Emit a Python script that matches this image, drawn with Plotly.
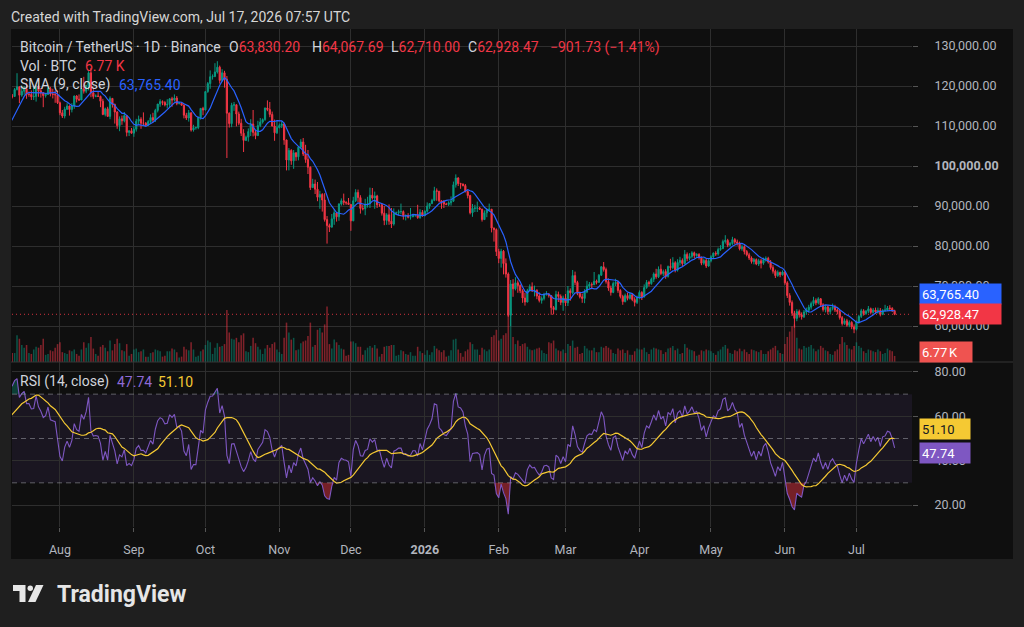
import numpy as np
import pandas as pd
import plotly.graph_objects as go

# ---------------- data (prices in thousands of USDT, volume in thousands of BTC) -------------
START = "2025-07-01"
warmup_close = [105.7,105.9,105.4,104.7,101.5,104.3,105.6,105.8,110.3,110.3,108.6,105.7,106.1,105.4,105.6,
                106.8,104.6,104.9,104.6,103.3,102.1,100.9,105.4,106.0,107.3,106.9,107.1,107.3,108.4,107.1]

close_k = [
 105.7,108.9,109.6,108.0,108.2,109.2,108.3,108.9,111.3,115.9,117.5,117.4,119.1,119.8,117.7,118.7,119.3,117.9,117.9,117.3,117.4,120.0,118.8,118.3,117.6,117.9,119.4,118.0,117.9,117.8,115.8,
 113.3,112.5,114.2,115.0,114.1,115.0,117.5,116.7,116.5,119.3,118.7,120.1,123.3,118.3,117.4,117.5,117.4,116.2,112.9,114.3,112.4,116.9,115.4,113.5,110.1,111.8,111.3,112.6,108.4,108.8,108.2,
 109.2,111.2,111.7,110.7,110.7,110.2,111.1,112.1,111.5,113.9,115.5,116.1,115.9,115.3,115.4,116.8,116.5,117.0,115.6,115.7,115.2,112.7,112.0,113.3,109.0,109.6,109.6,112.1,114.4,114.0,
 118.6,120.6,122.3,122.4,123.5,124.7,121.4,123.3,121.7,113.2,110.6,115.2,115.3,113.0,110.7,108.2,106.4,107.2,108.6,110.5,108.4,107.6,110.1,111.0,111.6,114.5,114.1,112.9,110.0,108.3,109.6,
 110.1,110.5,106.5,101.5,103.9,101.3,103.3,102.3,104.7,106.0,103.0,101.6,99.7,94.6,95.5,94.2,92.2,92.9,91.5,86.6,85.1,84.7,86.8,88.3,87.3,90.5,91.3,90.9,90.8,90.4,
 86.3,91.3,93.4,92.1,89.4,89.3,90.4,90.6,92.7,92.0,92.5,90.3,90.3,88.2,86.4,87.8,86.2,85.5,88.1,88.3,88.6,88.6,87.5,87.6,87.2,87.3,87.8,87.8,87.1,88.4,87.6,
 88.7,90.0,90.6,91.4,93.8,93.7,91.3,91.0,90.5,90.4,90.8,91.2,95.3,97.0,95.6,95.5,95.1,93.6,92.6,88.3,89.4,89.5,89.5,89.2,86.6,88.3,89.1,89.2,84.5,84.1,78.6,
 76.9,78.7,75.6,73.0,62.7,70.5,69.3,70.8,70.1,68.8,67.0,66.0,68.8,69.8,68.8,68.9,67.5,66.4,66.9,67.9,68.0,67.6,64.6,64.1,67.9,67.4,65.9,67.0,
 65.8,68.8,68.3,72.6,70.9,68.2,67.3,66.9,68.5,70.0,70.4,70.3,71.2,70.9,72.7,74.8,74.1,71.1,69.5,68.4,70.6,70.9,68.9,67.4,66.1,67.6,66.9,67.8,66.6,65.9,67.2,
 68.4,67.3,69.6,70.9,70.6,71.7,73.0,72.3,74.2,73.1,73.6,72.4,74.9,74.6,75.8,74.0,75.9,76.4,75.6,77.9,76.9,77.4,78.3,77.6,77.9,77.1,75.7,76.4,75.0,76.3,
 77.3,78.2,78.0,79.1,79.4,81.1,81.4,80.2,80.6,81.6,81.0,80.7,79.3,79.8,78.6,77.8,77.0,76.1,76.6,75.5,76.3,75.7,76.6,76.9,76.0,74.6,73.7,72.6,73.4,72.8,73.5,
 70.8,67.6,65.9,63.2,61.9,63.6,62.8,62.3,63.5,63.9,64.7,65.6,66.4,65.8,66.8,65.3,64.1,64.8,63.6,64.4,64.7,64.0,63.6,62.1,60.6,61.3,60.2,60.9,59.8,59.2,
 61.0,62.4,63.8,63.1,63.7,64.3,63.4,64.0,63.5,63.9,62.9,63.9,64.0,64.5,64.4,63.8302,62.92847]

high_k = [
 107.6,109.8,110.5,109.8,108.4,109.7,109.7,109.2,111.9,116.9,118.9,118.0,119.5,123.2,119.8,120.1,120.0,120.8,118.6,118.9,119.7,120.2,120.1,119.5,118.5,118.3,119.8,119.8,119.3,118.8,118.9,
 116.1,114.0,114.8,115.7,115.1,115.7,117.6,117.7,117.9,119.3,122.3,120.3,123.7,124.5,119.2,117.9,118.6,117.6,116.8,114.6,114.8,117.4,117.0,115.6,113.7,112.4,112.6,113.5,112.7,108.9,109.5,
 109.9,111.8,112.6,112.2,113.4,111.0,111.5,112.9,113.3,114.3,115.5,116.7,116.4,116.2,116.7,117.0,117.3,117.9,117.5,116.0,115.9,115.4,113.3,114.0,113.4,110.3,109.8,112.4,114.5,114.8,
 118.7,121.0,123.9,122.9,125.7,126.2,125.1,124.2,123.8,122.5,113.4,115.8,116.0,115.4,113.6,111.8,109.2,107.6,109.4,111.7,114.0,109.0,111.3,112.0,111.9,114.6,116.4,116.0,113.6,111.6,111.2,
 110.6,111.2,110.8,106.6,104.5,104.2,104.0,103.4,105.0,106.7,107.0,105.3,104.0,99.9,96.8,96.6,96.0,93.8,93.2,93.2,87.5,85.6,88.0,89.2,88.5,90.7,91.9,93.1,91.2,92.0,
 90.4,92.3,94.2,94.1,92.7,90.3,91.8,92.3,94.6,94.5,93.6,92.8,90.6,90.6,90.0,88.2,90.4,89.5,89.4,88.6,89.1,90.6,88.9,87.9,88.2,89.5,87.9,88.0,90.3,89.2,89.0,
 88.9,90.9,90.7,91.8,94.8,94.4,93.6,91.4,91.5,90.8,91.2,92.4,96.1,97.9,97.2,95.8,95.6,95.5,93.9,92.8,90.5,90.3,91.1,89.8,89.3,88.9,89.4,90.6,89.2,84.6,84.4,
 79.3,79.3,79.0,76.9,73.4,71.5,71.7,72.2,71.4,70.4,69.2,68.3,69.3,70.4,70.9,70.1,69.2,68.4,67.4,68.3,68.7,68.2,67.7,65.0,68.8,68.6,67.9,67.6,
 68.0,70.0,69.4,74.0,73.6,71.3,68.6,68.1,69.2,71.3,71.0,70.9,73.5,71.6,73.0,75.0,76.0,74.6,71.9,70.1,71.1,71.8,71.3,69.2,67.8,68.1,68.3,68.2,68.0,67.2,67.6,
 68.9,68.7,70.4,71.5,71.3,72.1,73.4,74.3,74.9,75.4,74.1,74.2,75.1,76.8,77.2,76.2,76.7,77.3,76.9,79.0,78.4,78.2,78.7,78.6,78.2,78.2,77.4,76.9,76.8,76.7,
 77.7,78.4,78.7,79.6,80.2,81.6,82.7,81.8,81.0,82.3,82.0,81.6,81.1,80.3,80.2,79.0,78.3,77.4,77.0,76.9,76.8,76.8,77.1,77.4,77.3,76.5,75.2,74.1,73.9,73.6,73.9,
 73.7,71.2,68.2,66.4,63.8,64.2,64.1,63.4,64.0,64.6,65.3,66.1,67.3,66.9,67.2,67.0,65.7,65.2,65.1,64.8,65.6,65.3,64.4,64.0,62.5,61.9,61.8,61.4,61.2,60.4,
 61.4,62.8,64.3,64.2,64.0,65.0,64.6,64.5,64.6,64.6,64.5,64.2,65.3,65.0,65.2,64.7,64.06769]

low_k = [
 105.3,105.6,108.6,107.3,107.8,107.8,107.5,107.4,108.4,110.6,115.2,116.9,117.3,118.9,115.7,117.3,117.8,116.8,117.3,116.5,116.5,116.1,117.3,117.1,114.7,117.1,117.8,117.4,116.9,115.8,115.5,
 112.7,112.0,111.9,114.0,112.6,113.4,114.3,115.9,116.3,116.5,118.1,118.2,118.9,117.2,116.8,117.2,117.3,114.7,112.7,112.4,112.4,111.7,114.6,110.6,109.3,108.7,110.3,110.9,107.4,107.5,108.1,
 107.3,108.6,110.5,109.3,110.2,110.0,110.0,110.6,110.9,111.0,113.4,114.8,115.2,114.9,114.4,114.7,114.8,116.1,115.2,115.4,115.1,111.9,111.5,111.1,108.6,108.6,109.1,109.2,111.6,112.7,
 113.9,118.3,119.3,121.6,122.2,123.1,120.6,121.1,119.6,102.0,109.6,109.7,113.8,109.9,110.2,107.5,103.5,106.3,106.1,107.5,107.4,106.7,107.5,109.7,110.6,111.3,113.7,112.2,109.9,106.3,108.0,
 109.4,109.5,105.3,98.9,98.9,100.3,99.3,101.3,101.4,104.3,102.5,100.8,98.0,94.0,94.6,93.0,91.2,89.3,88.6,86.1,80.6,83.5,84.7,85.3,86.1,86.3,90.1,90.2,90.3,90.3,
 83.8,86.2,91.0,91.0,88.1,88.9,87.7,89.6,89.5,91.6,89.3,89.5,89.8,87.6,85.2,85.3,85.3,84.5,85.1,87.9,87.6,87.9,86.6,86.4,86.9,86.6,87.2,87.3,86.8,86.8,87.3,
 87.4,88.3,89.3,90.6,91.2,91.3,90.9,89.3,89.5,90.2,90.0,90.1,91.0,94.6,95.0,94.3,94.9,93.4,91.9,87.9,87.3,88.5,88.5,89.0,86.1,86.5,87.2,88.7,83.4,81.1,77.5,
 75.7,74.6,72.9,72.1,62.3,60.0,67.3,68.9,68.3,68.2,65.8,65.1,65.9,68.6,68.5,67.4,66.7,65.9,65.6,66.4,67.6,67.1,62.8,62.9,63.9,66.0,65.2,63.8,
 65.0,65.0,66.3,67.9,70.2,67.7,66.9,65.8,65.7,68.2,69.3,69.2,70.3,70.4,70.9,72.5,73.6,70.6,68.8,67.6,68.2,70.0,68.3,66.9,65.3,65.9,66.4,66.6,66.2,64.9,65.5,
 66.7,66.5,67.1,69.3,69.9,70.3,71.0,71.8,72.0,72.7,72.5,71.8,72.1,73.9,74.2,73.4,73.6,75.1,74.9,75.4,76.2,76.4,76.9,76.9,77.3,76.6,75.2,75.3,74.5,74.8,
 75.9,77.0,77.5,77.6,78.8,79.2,80.6,79.7,79.9,80.3,80.4,80.1,78.9,78.8,77.9,77.4,76.5,75.6,75.4,75.2,75.0,74.4,75.3,76.1,75.6,74.1,73.1,72.0,72.3,72.2,72.6,
 70.3,67.0,65.1,62.5,59.6,61.2,62.1,61.6,62.0,62.8,63.4,64.1,65.0,65.2,65.4,64.8,63.6,63.4,62.9,62.9,63.9,63.5,62.9,61.6,60.1,60.3,59.8,59.7,59.2,58.2,
 58.9,60.6,62.0,62.6,62.8,63.2,62.9,63.1,63.0,63.1,62.4,62.7,63.6,63.8,63.8,63.5,62.71]

volume_k = [
 12,17,13,11,5,6,9,9,15,34,30,10,10,30,26,19,16,19,10,9,14,17,16,19,26,8,9,13,12,16,20,
 22,11,10,9,13,12,14,9,7,14,22,16,21,28,15,9,7,17,19,16,12,24,13,20,26,21,13,12,20,7,9,
 14,15,11,12,14,6,6,10,11,14,13,12,6,7,12,12,15,14,11,5,6,17,14,13,22,14,6,7,12,14,
 19,24,22,9,16,21,17,18,20,58,33,26,25,27,22,30,32,12,11,18,27,21,17,14,9,15,19,16,20,22,14,
 11,9,27,44,33,25,27,13,14,21,23,24,29,44,17,19,36,38,33,42,62,20,15,25,22,19,15,14,7,8,
 23,23,21,17,17,8,13,16,18,16,19,15,6,9,17,18,18,19,19,7,8,13,12,9,8,11,7,7,17,12,10,
 8,13,8,11,18,15,13,11,13,6,7,13,25,26,14,10,6,12,14,22,20,14,14,8,16,14,12,14,28,30,36,
 24,26,30,32,55,60,28,20,24,18,20,21,17,14,13,14,15,16,13,10,9,22,21,24,15,13,12,14,
 10,20,18,24,16,17,9,10,18,15,13,13,16,11,11,17,16,18,16,14,10,9,15,13,14,10,13,8,8,12,15,
 14,14,16,11,9,14,16,15,14,13,9,11,15,16,18,13,15,9,10,20,16,14,13,12,7,8,13,12,14,13,
 12,10,8,12,14,17,19,15,10,9,13,12,15,12,14,11,9,14,13,12,11,13,9,9,12,14,16,18,13,10,9,
 20,28,34,40,42,27,15,14,18,16,17,19,15,12,14,18,16,13,12,9,8,12,14,20,28,22,19,15,14,18,
 22,18,16,12,10,14,13,12,11,14,12,9,10,15,13,12,6.77]

month_ticks = ["2025-08-01","2025-09-01","2025-10-01","2025-11-01","2025-12-01","2026-01-01",
               "2026-02-01","2026-03-01","2026-04-01","2026-05-01","2026-06-01","2026-07-01"]
month_labels = ["Aug","Sep","Oct","Nov","Dec","<b>2026</b>","Feb","Mar","Apr","May","Jun","Jul"]
price_ticks = [60000,70000,80000,90000,100000,110000,120000,130000]
rsi_ticks = [20,40,60,80]

# values printed by the reference legend / scale labels
LEG_O, LEG_H, LEG_L, LEG_C = "63,830.20", "64,067.69", "62,710.00", "62,928.47"
LEG_CHG = "−901.73 (−1.41%)"
LEG_VOL = "6.77 K"
LEG_SMA = "63,765.40"
LEG_RSI, LEG_RSIMA = "47.74", "51.10"

# ---------------- derived series ----------------
close = np.array(close_k) * 1000
high = np.array(high_k) * 1000
low = np.array(low_k) * 1000
warm = np.array(warmup_close) * 1000
open_ = np.concatenate([[warm[-1]], close[:-1]])
high = np.maximum(high, np.maximum(open_, close))
low = np.minimum(low, np.minimum(open_, close))
vol = np.array(volume_k)
dates = pd.date_range(START, periods=len(close), freq="D")

allc = pd.Series(np.concatenate([warm, close]))
sma9 = allc.rolling(9).mean().values[len(warm):]
d = allc.diff()
up = d.clip(lower=0)
dn = (-d).clip(lower=0)
ag = up.ewm(alpha=1/14, adjust=False).mean()
al = dn.ewm(alpha=1/14, adjust=False).mean()
rsi_all = 100 - 100 / (1 + ag / al)
rsima_all = rsi_all.rolling(14).mean()
rsi = rsi_all.values[len(warm):]
rsima = rsima_all.values[len(warm):]

# ---------------- geometry helpers (pixel -> paper) ----------------
W, H = 1024, 627
PL, PR, PT, PB = 12, 912, 29, 527
SPLIT = 362
def px(x): return (x - PL) / (PR - PL)
def py(y): return (PB - y) / (PB - PT)
dom_split = py(SPLIT)

UP, DN = "#089981", "#f23645"
TXT = "#d1d4dc"
AX = "#b2b5be"
GRID = "#2e2e2e"
FONT = "Roboto"

fig = go.Figure()

# RSI extreme fills
fig.add_trace(go.Scatter(x=dates, y=np.full(len(rsi), 30.0), yaxis="y3", mode="lines",
                         line=dict(width=0), hoverinfo="skip", showlegend=False))
fig.add_trace(go.Scatter(x=dates, y=np.minimum(rsi, 30), yaxis="y3", mode="lines",
                         line=dict(width=0), fill="tonexty", fillcolor="rgba(242,54,69,0.45)",
                         hoverinfo="skip", showlegend=False))
fig.add_trace(go.Scatter(x=dates, y=np.full(len(rsi), 70.0), yaxis="y3", mode="lines",
                         line=dict(width=0), hoverinfo="skip", showlegend=False))
fig.add_trace(go.Scatter(x=dates, y=np.maximum(rsi, 70), yaxis="y3", mode="lines",
                         line=dict(width=0), fill="tonexty", fillcolor="rgba(8,153,129,0.35)",
                         hoverinfo="skip", showlegend=False))

# volume
vcol = np.where(close >= open_, "rgba(8,153,129,0.5)", "rgba(242,54,69,0.5)")
fig.add_trace(go.Bar(x=dates, y=vol, yaxis="y2", marker=dict(color=vcol, line=dict(width=0)),
                     hoverinfo="skip", showlegend=False))

# candles
fig.add_trace(go.Candlestick(x=dates, open=open_, high=high, low=low, close=close,
                             increasing=dict(line=dict(color=UP, width=1), fillcolor=UP),
                             decreasing=dict(line=dict(color=DN, width=1), fillcolor=DN),
                             whiskerwidth=0, showlegend=False, hoverinfo="skip"))
# SMA 9
fig.add_trace(go.Scatter(x=dates, y=sma9, mode="lines", line=dict(color="#2962ff", width=1.2),
                         hoverinfo="skip", showlegend=False))
# RSI + MA
fig.add_trace(go.Scatter(x=dates, y=rsi, yaxis="y3", mode="lines",
                         line=dict(color="#7e57c2", width=1.1), hoverinfo="skip", showlegend=False))
fig.add_trace(go.Scatter(x=dates, y=rsima, yaxis="y3", mode="lines",
                         line=dict(color="#f5c933", width=1.2), hoverinfo="skip", showlegend=False))

shapes = []
# panel background
shapes.append(dict(type="rect", xref="paper", yref="paper", x0=px(11), x1=px(1013), y0=py(559), y1=py(29),
                   fillcolor="#0f0f0f", line=dict(width=0), layer="below"))
# pane separator
shapes.append(dict(type="line", xref="paper", yref="paper", x0=px(11), x1=px(1013), y0=py(SPLIT), y1=py(SPLIT),
                   line=dict(color="#363636", width=1)))
# RSI band and levels
shapes.append(dict(type="rect", xref="paper", yref="y3", x0=0, x1=1, y0=30, y1=70,
                   fillcolor="rgba(126,87,194,0.10)", line=dict(width=0), layer="below"))
for lv in (30, 50, 70):
    shapes.append(dict(type="line", xref="paper", yref="y3", x0=0, x1=1, y0=lv, y1=lv,
                       line=dict(color="rgba(160,160,170,0.55)", width=1, dash="5px,4px")))
# last price dotted line
shapes.append(dict(type="line", xref="paper", yref="y", x0=0, x1=1, y0=close[-1], y1=close[-1],
                   line=dict(color="rgba(242,54,69,0.85)", width=1, dash="1px,3px")))

# TradingView logo mark
def path(points):
    s = "M " + " L ".join(f"{px(a):.5f},{py(b):.5f}" for a, b in points) + " Z"
    return s
LOGO = "#e6e6e6"
shapes.append(dict(type="path", xref="paper", yref="paper",
                   path=path([(13, 585), (25.5, 585), (25.5, 602), (19.5, 602), (19.5, 591), (13, 591)]),
                   fillcolor=LOGO, line=dict(width=0)))
shapes.append(dict(type="circle", xref="paper", yref="paper", x0=px(27.5), x1=px(33), y0=py(591), y1=py(585.5),
                   fillcolor=LOGO, line=dict(width=0)))
shapes.append(dict(type="path", xref="paper", yref="paper",
                   path=path([(36, 585), (43.5, 585), (35.5, 602), (28, 602)]),
                   fillcolor=LOGO, line=dict(width=0)))

ann = []
def text(x, y, t, size=14, color=TXT, **kw):
    ann.append(dict(xref="paper", yref="paper", x=px(x), y=py(y), text=t, showarrow=False,
                    xanchor="left", yanchor="middle", font=dict(family=FONT, size=size, color=color), **kw))

text(9, 17, "Created with TradingView.com, Jul 17, 2026 07:57 UTC", size=14, color="#d6d6d6")
red = lambda v: f"<span style='color:{DN}'>{v}</span>"
text(18, 47, "Bitcoin / TetherUS · 1D · Binance")
text(227, 47, "O" + red(LEG_O))
text(310, 47, "H" + red(LEG_H))
text(389, 47, "L" + red(LEG_L))
text(466, 47, "C" + red(LEG_C))
text(548, 47, red(LEG_CHG))
text(18, 66, "Vol · BTC")
text(83, 66, red(LEG_VOL))
text(18, 85, "SMA (9, close)")
text(117, 85, f"<span style='color:#2962ff'>{LEG_SMA}</span>")
text(18, 382, "RSI (14, close)")
text(115, 382, f"<span style='color:#8e6ad6'>{LEG_RSI}</span>")
text(156, 382, f"<span style='color:#f5c933'>{LEG_RSIMA}</span>")
text(55, 594, "<b>TradingView</b>", size=23, color=LOGO)

def tag(yref, yval, label, bg, fg, width, shift=0):
    ann.append(dict(xref="paper", yref=yref, x=px(919), y=yval, yshift=shift, text=label, showarrow=False,
                    xanchor="left", yanchor="middle", align="left", width=width, height=16,
                    bgcolor=bg, borderpad=2, font=dict(family=FONT, size=13, color=fg)))

tag("y", sma9[-1], LEG_SMA, "#2962ff", "#ffffff", 77, shift=17)
tag("y", close[-1], LEG_C, DN, "#ffffff", 77)
tag("y2", vol[-1], LEG_VOL.replace(" ", "\u202f"), "#ef5350", "#ffffff", 48, shift=4)
tag("y3", rsima[-1], LEG_RSIMA, "#f5c933", "#131722", 46, shift=10)
tag("y3", rsi[-1], LEG_RSI, "#7e57c2", "#ffffff", 46, shift=-5)

price_text = [f"{v:,.2f}" if v != 100000 else f"<b>{v:,.2f}</b>" for v in price_ticks]

fig.update_layout(
    width=W, height=H,
    margin=dict(l=PL, r=W - PR, t=PT, b=H - PB, pad=0),
    paper_bgcolor="#1f1f1f", plot_bgcolor="#0f0f0f",
    font=dict(family=FONT, color=AX),
    showlegend=False, bargap=0.35,
    shapes=shapes, annotations=ann,
    xaxis=dict(type="date", domain=[0, 1], anchor="y3",
               range=["2025-07-11 21:30", "2026-07-24 07:00"],
               rangeslider=dict(visible=False),
               tickvals=month_ticks, ticktext=month_labels,
               tickfont=dict(size=12.5, color=AX), ticks="outside", ticklen=4, tickcolor="#555",
               ticklabelstandoff=7,
               showgrid=True, gridcolor=GRID, gridwidth=1, zeroline=False, showline=False, fixedrange=True),
    yaxis=dict(domain=[dom_split, 1], anchor="x", side="right",
               range=[51000, 134250], tickvals=price_ticks, ticktext=price_text,
               tickfont=dict(size=12.5, color=AX), ticks="outside", ticklen=5, tickcolor="#555",
               ticklabelstandoff=14,
               showgrid=True, gridcolor=GRID, zeroline=False, showline=False, fixedrange=True),
    yaxis2=dict(overlaying="y", anchor="x", range=[0, 372], visible=False, fixedrange=True),
    yaxis3=dict(domain=[0, dom_split], anchor="x", side="right",
                range=[10.08, 84.5], tickvals=rsi_ticks, ticktext=[f"{v:.2f}" for v in rsi_ticks],
                tickfont=dict(size=12.5, color=AX), ticks="outside", ticklen=5, tickcolor="#555",
                ticklabelstandoff=14,
                showgrid=True, gridcolor=GRID, zeroline=False, showline=False, fixedrange=True),
)

fig.write_html("out.html")
